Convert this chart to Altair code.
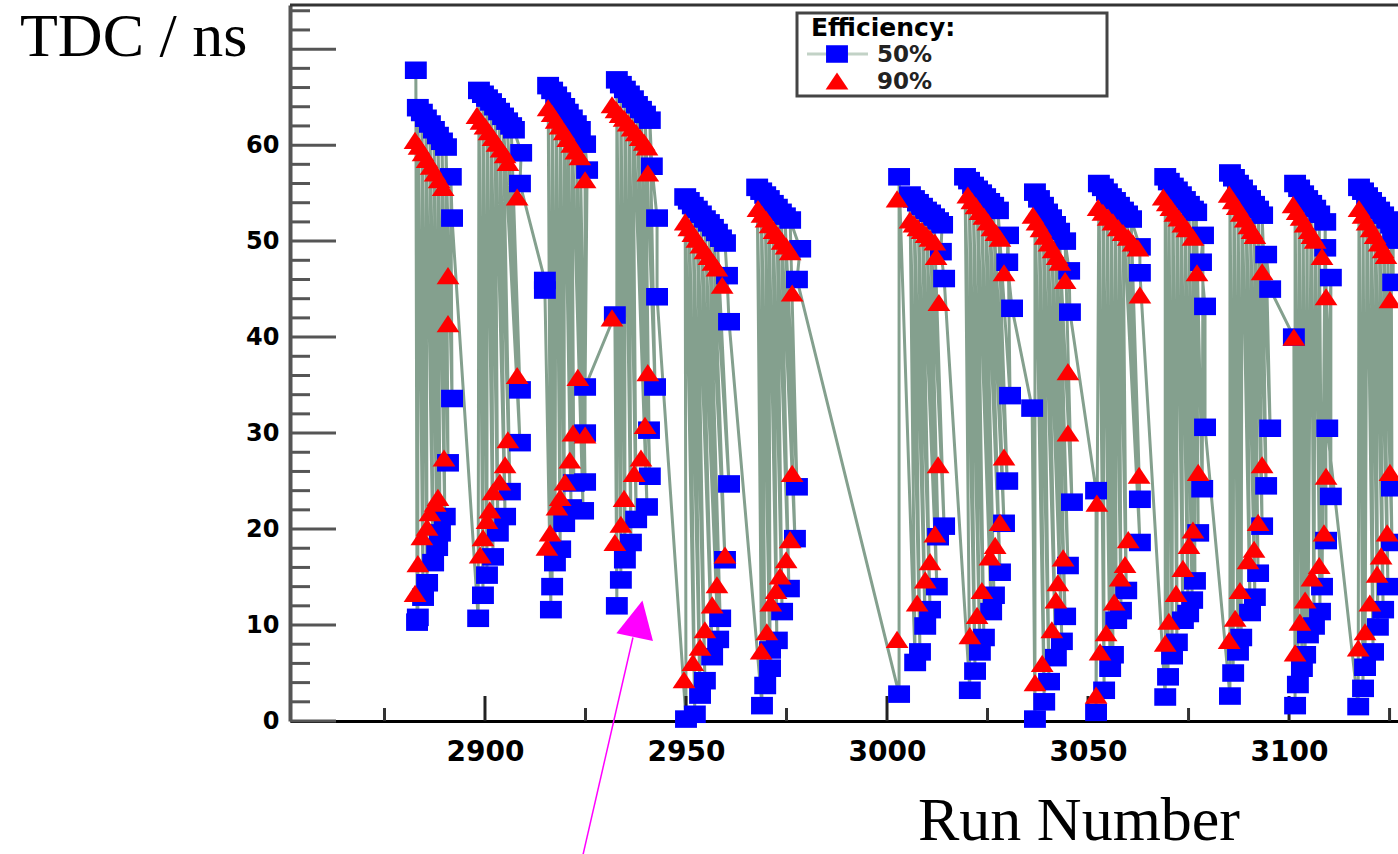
import altair as alt
import pandas as pd

# ---------------- axes ----------------
X_DOMAIN = [2851.5, 3127.1]
Y_DOMAIN = [0, 74.6]
X_LABELS = [2900, 2950, 3000, 3050, 3100]
X_MINOR = [2875, 2925, 2975, 3025, 3075, 3125]
Y_LABELS = [0, 10, 20, 30, 40, 50, 60]
Y_MAJOR = [0, 10, 20, 30, 40, 50, 60, 70]
Y_MINOR = [2, 4, 6, 8, 12, 14, 16, 18, 22, 24, 26, 28, 32, 34, 36, 38,
           42, 44, 46, 48, 52, 54, 56, 58, 62, 64, 66, 68, 72, 74]

# ---------------- data: (run, TDC ns) per scan group ----------------
# Efficiency 50 % (blue squares) : low branch / high branch / leading points
BLUE_LO = [
    [(2883.1, 10.3), (2883.3, 10.8), (2884.6, 12.9), (2885.6, 14.4), (2887.1, 16.5), (2888.1, 18.1), (2888.8, 19.6), (2890.0, 21.3), (2890.8, 26.9), (2891.8, 33.6)],
    [(2898.3, 10.7), (2899.5, 13.1), (2900.5, 15.2), (2902.0, 17.1), (2903.2, 19.6), (2905.0, 21.3), (2906.2, 23.9), (2908.7, 29.0), (2908.7, 34.5)],
    [(2916.4, 11.6), (2916.7, 14.0), (2917.4, 16.5), (2918.7, 17.9), (2919.7, 20.6), (2921.4, 22.2), (2922.1, 24.8), (2924.4, 21.9), (2924.9, 24.9), (2924.9, 30.0)],
    [(2932.8, 12.0), (2933.8, 14.7), (2934.8, 16.8), (2936.3, 18.6), (2937.6, 21.0), (2940.3, 22.3), (2941.0, 25.5), (2940.8, 30.3), (2942.3, 34.8)],
    [(2950.0, 0.2), (2952.2, 0.7), (2953.5, 2.7), (2954.7, 4.2), (2956.5, 6.7), (2958.0, 8.5), (2958.5, 10.7), (2959.7, 16.8), (2960.7, 24.7)],
    [(2968.9, 1.6), (2969.7, 3.7), (2970.9, 5.5), (2970.9, 7.4), (2972.6, 8.4), (2973.9, 11.4), (2975.6, 13.8), (2977.1, 19.0), (2977.6, 24.4)],
    [(3003.0, 2.8), (3007.0, 6.1), (3008.2, 7.2), (3009.5, 9.9), (3010.7, 11.6), (3012.4, 14.0), (3012.7, 19.2), (3014.2, 20.3)],
    [(3020.6, 3.2), (3021.9, 5.2), (3023.1, 7.2), (3024.1, 8.7), (3025.9, 11.4), (3026.6, 13.1), (3028.1, 15.5), (3029.1, 20.6), (3029.9, 25.0), (3030.6, 33.9)],
    [(3036.8, 0.2), (3039.1, 2.0), (3040.3, 4.1), (3042.0, 6.6), (3043.5, 8.3), (3044.3, 10.9), (3045.0, 16.2), (3046.0, 22.8)],
    [(3052.0, 0.9), (3054.0, 3.2), (3055.5, 5.5), (3056.2, 6.9), (3057.0, 10.5), (3058.2, 11.5), (3059.5, 13.6), (3062.9, 18.6), (3062.9, 23.1)],
    [(3069.2, 2.5), (3069.9, 4.6), (3070.9, 6.8), (3072.1, 8.2), (3073.6, 10.5), (3074.9, 11.2), (3075.9, 12.6), (3076.6, 14.6), (3077.4, 19.6), (3078.4, 24.2)],
    [(3085.3, 2.6), (3086.1, 5.0), (3087.3, 7.2), (3088.1, 8.7), (3090.3, 11.3), (3091.5, 12.9), (3092.3, 15.4), (3093.3, 20.3), (3094.3, 24.5), (3095.3, 30.5)],
    [(3101.5, 1.6), (3102.2, 3.8), (3103.2, 5.5), (3104.0, 6.9), (3104.7, 9.0), (3106.2, 9.9), (3107.7, 11.4), (3108.2, 14.0), (3109.2, 18.8), (3110.4, 23.4)],
    [(3117.2, 1.5), (3118.4, 3.4), (3118.9, 5.6), (3120.9, 7.2), (3122.1, 9.8), (3123.4, 11.6), (3124.6, 14.0), (3125.6, 18.6), (3125.6, 24.3)],
]
BLUE_HI = [
    [(2882.8, 67.8), (2883.3, 63.9), (2884.3, 63.4), (2885.3, 62.8), (2886.3, 62.2), (2887.3, 61.6), (2888.3, 61.0), (2889.3, 60.4), (2890.3, 59.8), (2891.5, 56.7), (2891.8, 52.4)],
    [(2898.5, 65.7), (2899.5, 65.3), (2900.5, 64.9), (2901.5, 64.5), (2902.5, 64.0), (2903.5, 63.5), (2904.5, 63.0), (2905.5, 62.5), (2906.5, 62.0), (2907.2, 61.6), (2909.0, 59.2), (2908.7, 56.0)],
    [(2915.7, 66.2), (2916.7, 65.7), (2917.7, 65.2), (2918.7, 64.6), (2919.7, 64.0), (2920.6, 63.4), (2921.6, 62.8), (2922.6, 62.2), (2923.6, 61.6), (2924.9, 60.1), (2925.4, 57.4), (2924.9, 34.8)],
    [(2932.8, 66.8), (2933.8, 66.3), (2934.8, 65.8), (2935.8, 65.3), (2936.8, 64.8), (2937.8, 64.2), (2938.8, 63.7), (2939.8, 63.2), (2941.0, 62.6), (2941.5, 57.8), (2942.8, 52.4), (2942.8, 44.2)],
    [(2949.8, 54.6), (2950.7, 54.2), (2951.7, 53.7), (2952.7, 53.3), (2953.7, 52.8), (2954.7, 52.3), (2955.7, 51.9), (2956.7, 51.4), (2957.7, 50.9), (2958.7, 50.3), (2959.7, 49.8), (2960.2, 46.4), (2960.7, 41.6)],
    [(2967.7, 55.6), (2968.7, 55.2), (2969.7, 54.8), (2970.6, 54.4), (2971.6, 53.9), (2972.6, 53.5), (2973.6, 53.0), (2974.6, 52.6), (2975.9, 52.2), (2978.4, 49.2), (2977.6, 46.0)],
    [(3003.0, 56.7), (3005.7, 54.8), (3006.7, 54.4), (3007.7, 54.0), (3008.7, 53.6), (3009.7, 53.2), (3010.7, 52.9), (3011.7, 52.5), (3012.7, 52.1), (3013.7, 51.7), (3013.4, 48.9), (3014.2, 46.1)],
    [(3019.4, 56.7), (3020.4, 56.3), (3021.4, 55.8), (3022.4, 55.4), (3023.4, 55.0), (3024.4, 54.6), (3025.4, 54.1), (3026.4, 53.7), (3027.6, 53.2), (3030.1, 50.6), (3029.9, 47.8), (3031.1, 43.0)],
    [(3036.8, 55.1), (3037.8, 54.4), (3038.8, 53.7), (3039.8, 53.0), (3040.8, 52.4), (3041.8, 51.7), (3042.8, 51.0), (3044.3, 50.0), (3045.3, 46.9), (3045.5, 42.6)],
    [(3052.7, 56.0), (3053.7, 55.6), (3054.7, 55.1), (3055.7, 54.6), (3056.7, 54.2), (3057.7, 53.7), (3058.7, 53.2), (3059.7, 52.8), (3060.7, 52.3), (3062.9, 49.4), (3062.9, 46.7)],
    [(3069.2, 56.7), (3070.1, 56.2), (3071.1, 55.7), (3072.1, 55.3), (3073.1, 54.8), (3074.1, 54.3), (3075.1, 53.8), (3076.1, 53.3), (3076.9, 53.0), (3078.6, 50.6), (3078.1, 47.8), (3079.1, 43.2), (3079.1, 30.6)],
    [(3085.3, 57.1), (3086.3, 56.6), (3087.3, 56.0), (3088.3, 55.5), (3089.3, 54.9), (3090.3, 54.4), (3091.3, 53.8), (3092.3, 53.3), (3093.3, 52.7), (3094.3, 48.6), (3095.3, 45.0)],
    [(3101.5, 56.0), (3102.5, 55.5), (3103.5, 54.9), (3104.5, 54.4), (3105.5, 53.9), (3106.5, 53.4), (3107.5, 52.8), (3109.0, 52.0), (3109.0, 49.3), (3110.4, 46.2), (3109.5, 30.5)],
    [(3117.4, 55.6), (3118.4, 55.2), (3119.4, 54.7), (3120.4, 54.2), (3121.4, 53.7), (3122.4, 53.2), (3123.4, 52.7), (3124.4, 52.2), (3125.4, 51.7), (3125.9, 50.1), (3125.9, 45.7)],
]
BLUE_PRE = {2: [(2914.9, 45.9), (2914.9, 44.9)], 3: [(2932.3, 42.3)],
            8: [(3036.1, 32.6)], 9: [(3052.0, 24.0)], 12: [(3101.2, 40.0)]}

# Efficiency 90 % (red triangles)
RED_LO = [
    [(2882.6, 13.3), (2883.3, 16.4), (2884.3, 19.2), (2885.6, 20.2), (2886.3, 21.7), (2887.6, 22.7), (2888.3, 23.3), (2889.8, 27.4)],
    [(2898.8, 17.3), (2899.5, 19.1), (2900.5, 20.9), (2901.2, 22.0), (2902.0, 23.9), (2903.7, 24.9), (2905.0, 26.7), (2905.7, 29.3)],
    [(2915.4, 18.1), (2916.2, 19.6), (2917.9, 22.3), (2918.7, 23.3), (2919.9, 24.9), (2921.1, 27.2), (2921.9, 30.0), (2923.1, 35.8)],
    [(2932.3, 18.6), (2933.8, 20.5), (2934.6, 23.2), (2937.1, 25.8), (2938.8, 27.4), (2939.8, 30.8)],
    [(2949.5, 4.3), (2951.7, 6.1), (2953.5, 7.7), (2954.7, 9.5), (2956.5, 12.1), (2957.7, 14.2), (2959.7, 17.3)],
    [(2968.7, 7.3), (2970.1, 9.3), (2971.1, 12.3), (2972.4, 13.6), (2973.4, 15.1), (2974.9, 16.8), (2975.9, 18.9), (2976.4, 25.8)],
    [(3002.5, 8.5), (3007.5, 12.3), (3009.5, 14.7), (3010.7, 16.6), (3011.9, 19.5), (3012.7, 26.7)],
    [(3020.6, 8.9), (3022.4, 11.0), (3023.6, 13.6), (3025.6, 17.1), (3026.9, 18.3), (3028.1, 20.7), (3029.1, 27.5)],
    [(3036.8, 4.0), (3038.6, 6.0), (3041.0, 9.5), (3042.0, 12.6), (3042.5, 14.4), (3043.8, 17.0)],
    [(3052.0, 2.7), (3053.0, 7.2), (3054.5, 9.2), (3056.5, 12.4), (3058.0, 14.9), (3059.2, 16.3), (3060.0, 18.9), (3062.7, 25.6)],
    [(3069.2, 8.1), (3070.1, 10.4), (3071.9, 13.3), (3073.6, 15.9), (3075.1, 18.3), (3076.1, 19.9), (3077.4, 25.9)],
    [(3085.1, 8.4), (3086.6, 10.7), (3087.8, 13.6), (3089.8, 16.7), (3091.3, 17.9), (3092.3, 20.7), (3093.3, 26.7)],
    [(3101.5, 7.1), (3102.7, 10.3), (3104.0, 12.6), (3105.7, 14.9), (3107.5, 16.2), (3108.7, 19.6), (3109.2, 25.5)],
    [(3117.2, 7.6), (3118.9, 9.3), (3120.1, 12.3), (3121.9, 15.3), (3122.9, 17.2), (3124.4, 19.6), (3125.1, 25.9)],
]
RED_HI = [
    [(2882.6, 60.5), (2883.6, 59.9), (2884.6, 59.2), (2885.6, 58.5), (2886.6, 57.8), (2887.6, 57.1), (2888.6, 56.4), (2889.6, 55.6), (2890.8, 46.4), (2890.8, 41.4)],
    [(2898.0, 63.1), (2899.0, 62.5), (2900.0, 62.0), (2901.0, 61.4), (2902.0, 60.8), (2903.0, 60.2), (2904.0, 59.6), (2905.0, 59.0), (2905.7, 58.2), (2908.0, 54.6), (2908.0, 36.0)],
    [(2915.7, 63.9), (2916.7, 63.3), (2917.7, 62.6), (2918.7, 62.0), (2919.7, 61.4), (2920.6, 60.7), (2921.6, 60.1), (2922.6, 59.4), (2923.6, 58.8), (2924.9, 56.4), (2924.9, 29.8)],
    [(2931.6, 64.2), (2932.6, 63.7), (2933.6, 63.2), (2934.6, 62.8), (2935.6, 62.3), (2936.6, 61.8), (2937.6, 61.3), (2938.6, 60.8), (2939.6, 60.3), (2940.3, 59.8), (2940.5, 57.1), (2940.5, 36.3)],
    [(2949.8, 52.0), (2950.7, 51.4), (2951.7, 50.8), (2952.7, 50.2), (2953.7, 49.6), (2954.7, 49.0), (2955.7, 48.4), (2956.7, 47.8), (2957.7, 47.2), (2959.0, 45.4)],
    [(2967.9, 53.4), (2968.9, 52.8), (2969.9, 52.3), (2970.9, 51.7), (2971.9, 51.1), (2972.9, 50.6), (2973.9, 50.0), (2974.9, 49.5), (2975.9, 48.9), (2976.4, 44.6)],
    [(3002.5, 54.4), (3005.7, 52.2), (3006.7, 51.8), (3007.7, 51.4), (3008.7, 51.1), (3009.7, 50.7), (3010.7, 50.3), (3011.9, 49.9), (3012.2, 48.4), (3012.9, 43.6)],
    [(3020.1, 54.8), (3021.1, 54.2), (3022.1, 53.7), (3023.1, 53.1), (3024.1, 52.6), (3025.1, 52.0), (3026.1, 51.4), (3027.1, 50.9), (3028.1, 50.3), (3029.1, 46.7)],
    [(3036.3, 52.7), (3037.3, 52.0), (3038.3, 51.3), (3039.3, 50.5), (3040.3, 49.8), (3041.3, 49.1), (3042.3, 48.4), (3043.0, 47.8), (3044.3, 45.9), (3045.0, 36.4), (3045.0, 30.0)],
    [(3052.5, 53.5), (3053.7, 53.0), (3055.0, 52.5), (3056.2, 52.0), (3057.5, 51.4), (3058.7, 50.9), (3060.0, 50.4), (3061.2, 49.8), (3062.4, 49.3), (3062.9, 44.4)],
    [(3068.7, 54.6), (3069.7, 54.0), (3070.6, 53.5), (3071.6, 52.9), (3072.6, 52.4), (3073.6, 51.8), (3074.6, 51.3), (3076.1, 50.4), (3077.1, 46.7)],
    [(3085.1, 54.9), (3086.1, 54.2), (3087.1, 53.6), (3088.1, 52.9), (3089.1, 52.3), (3090.0, 51.6), (3090.8, 51.1), (3091.5, 50.6), (3093.3, 46.8)],
    [(3101.0, 53.8), (3102.0, 53.1), (3103.0, 52.5), (3104.0, 51.8), (3105.0, 51.1), (3105.7, 50.6), (3106.5, 50.1), (3108.2, 48.4), (3109.2, 44.2)],
    [(3117.4, 53.4), (3118.4, 52.7), (3119.4, 52.0), (3120.4, 51.3), (3121.4, 50.6), (3122.4, 49.8), (3123.4, 49.1), (3124.1, 48.5), (3125.1, 43.9)],
]
RED_PRE = {3: [(2931.6, 42.0)], 9: [(3052.2, 22.7)], 12: [(3101.2, 40.0)]}

# annotation arrow (in run / ns units)
ARROW_RUN = [2924.4, 2936.8]
ARROW_TDC = [-13.9, 8.7]
ARROW_HEAD = (2938.2, 10.65)

# ---------------- build tables ----------------
blue_rows, red_rows = [], []
k = 0
for g in range(len(BLUE_HI)):
    seq = list(BLUE_PRE.get(g, []))
    lo, hi = BLUE_LO[g], BLUE_HI[g]
    for i in range(max(len(lo), len(hi))):
        if i < len(lo):
            seq.append(lo[i])
        if i < len(hi):
            seq.append(hi[i])
    for r, t in seq:
        blue_rows.append({"run": r, "tdc": t, "k": k})
        k += 1
    for r, t in RED_PRE.get(g, []) + RED_LO[g] + RED_HI[g]:
        red_rows.append({"run": r, "tdc": t})
blue = pd.DataFrame(blue_rows)
red = pd.DataFrame(red_rows)

W, H = 1108, 716
xs = alt.Scale(domain=X_DOMAIN, nice=False, zero=False)
ys = alt.Scale(domain=Y_DOMAIN, nice=False, zero=False)
FONT = "DejaVu Sans"
SQUARE = "M-1,-0.8L1,-0.8L1,0.8L-1,0.8Z"
TRI = "M0,-0.75L1,0.75L-1,0.75Z"
LINE_COL = "#84a08e"

x_axis = alt.Axis(values=X_LABELS, format="d", ticks=False, grid=False, title=None,
                  labelFont=FONT, labelFontSize=28, labelFontWeight="bold",
                  labelColor="#000000", labelPadding=17, labelFlush=False,
                  domainColor="#000000", domainWidth=3)
y_axis = alt.Axis(values=Y_LABELS, format="d", ticks=False, grid=False, title=None,
                  labelFont=FONT, labelFontSize=24, labelFontWeight="bold",
                  labelColor="#000000", labelPadding=11,
                  domainColor="#555555", domainWidth=4)

line = alt.Chart(blue).mark_line(color=LINE_COL, strokeWidth=3).encode(
    x=alt.X("run:Q", scale=xs, axis=x_axis),
    y=alt.Y("tdc:Q", scale=ys, axis=y_axis),
    order=alt.Order("k:Q"),
)
bpts = alt.Chart(blue).mark_point(shape=SQUARE, filled=True, size=480,
                                  color="#0000ff", opacity=1, strokeWidth=0).encode(
    x=alt.X("run:Q", scale=xs), y=alt.Y("tdc:Q", scale=ys))
rpts = alt.Chart(red).mark_point(shape=TRI, filled=True, size=520,
                                 color="#ff0000", opacity=1, strokeWidth=0).encode(
    x=alt.X("run:Q", scale=xs), y=alt.Y("tdc:Q", scale=ys))

# inward ticks
ymaj = alt.Chart(pd.DataFrame({"v": Y_MAJOR})).mark_rule(color="#555555", strokeWidth=3).encode(
    y=alt.Y("v:Q", scale=ys), x=alt.value(0), x2=alt.value(46))
ymin = alt.Chart(pd.DataFrame({"v": Y_MINOR})).mark_rule(color="#555555", strokeWidth=3).encode(
    y=alt.Y("v:Q", scale=ys), x=alt.value(0), x2=alt.value(20))
xmaj = alt.Chart(pd.DataFrame({"v": X_LABELS})).mark_rule(color="#222222", strokeWidth=3).encode(
    x=alt.X("v:Q", scale=xs), y=alt.value(H), y2=alt.value(H - 25))
xmin = alt.Chart(pd.DataFrame({"v": X_MINOR})).mark_rule(color="#333333", strokeWidth=3).encode(
    x=alt.X("v:Q", scale=xs), y=alt.value(H), y2=alt.value(H - 13))
top = alt.Chart(pd.DataFrame({"v": [0]})).mark_rule(color="#333333", strokeWidth=3).encode(
    x=alt.value(0), x2=alt.value(W), y=alt.value(0))

one = pd.DataFrame({"v": [0]})
ytitle = alt.Chart(one).mark_text(text="TDC / ns", font="Liberation Serif", fontSize=62,
                                  align="left", baseline="alphabetic", color="#000000").encode(
    x=alt.value(-270), y=alt.value(51))
xtitle = alt.Chart(one).mark_text(text="Run Number", font="Liberation Serif", fontSize=62,
                                  align="left", baseline="alphabetic", color="#000000").encode(
    x=alt.value(628), y=alt.value(835))

# legend
leg_box = alt.Chart(one).mark_rect(fill="#ffffff", stroke="#444444", strokeWidth=3).encode(
    x=alt.value(507), x2=alt.value(817), y=alt.value(8), y2=alt.value(91))
leg_title = alt.Chart(one).mark_text(text="Efficiency:", font=FONT, fontSize=25, fontWeight="bold",
                                     align="left", baseline="alphabetic", color="#000000").encode(
    x=alt.value(521), y=alt.value(31))
leg_line = alt.Chart(one).mark_rule(color="#c2d2c6", strokeWidth=3).encode(
    x=alt.value(517), x2=alt.value(578), y=alt.value(49))
leg_sq = alt.Chart(one).mark_point(shape=SQUARE, filled=True, size=480, color="#0000ff",
                                   opacity=1, strokeWidth=0).encode(x=alt.value(547), y=alt.value(49))
leg_tri = alt.Chart(one).mark_point(shape=TRI, filled=True, size=520, color="#ff0000",
                                    opacity=1, strokeWidth=0).encode(x=alt.value(547), y=alt.value(76))
leg_50 = alt.Chart(one).mark_text(text="50%", font=FONT, fontSize=23, fontWeight="bold",
                                  align="left", baseline="middle", color="#222222").encode(
    x=alt.value(587), y=alt.value(50))
leg_90 = alt.Chart(one).mark_text(text="90%", font=FONT, fontSize=23, fontWeight="bold",
                                  align="left", baseline="middle", color="#222222").encode(
    x=alt.value(587), y=alt.value(77))

# arrow annotation
arrow_df = pd.DataFrame({"run": ARROW_RUN, "tdc": ARROW_TDC, "k": [0, 1]})
arrow_line = alt.Chart(arrow_df).mark_line(color="#ff00ff", strokeWidth=1.5).encode(
    x=alt.X("run:Q", scale=xs), y=alt.Y("tdc:Q", scale=ys), order="k:Q")
arrow_head = alt.Chart(pd.DataFrame({"run": [ARROW_HEAD[0]], "tdc": [ARROW_HEAD[1]]})).mark_point(
    shape="M0,-1L-1,1L1,1Z", filled=True, size=1400, angle=12, color="#ff00ff",
    opacity=1, strokeWidth=0).encode(x=alt.X("run:Q", scale=xs), y=alt.Y("tdc:Q", scale=ys))

chart = alt.layer(
    line, ymaj, ymin, xmaj, xmin, bpts, rpts, top, ytitle, xtitle,
    leg_box, leg_title, leg_line, leg_sq, leg_tri, leg_50, leg_90,
    arrow_line, arrow_head,
).properties(
    width=W, height=H,
    padding={"left": 290, "top": 5, "right": 0, "bottom": 133},
    autosize=alt.AutoSizeParams(type="none"),
    background="#ffffff",
).configure_view(stroke="transparent")

chart.save("out.html", embed_options={"renderer": "svg", "actions": False})
